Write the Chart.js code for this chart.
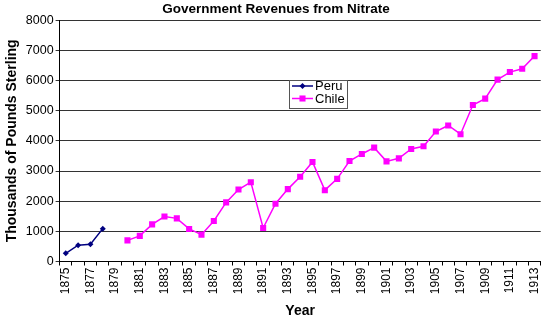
<!DOCTYPE html>
<html>
<head>
<meta charset="utf-8">
<script src="https://cdn.jsdelivr.net/npm/chart.js@4/dist/chart.umd.min.js"></script>
<style>
  html, body { margin: 0; padding: 0; background: #fff; }
  #wrap { width: 551px; height: 320px; position: relative; }
</style>
</head>
<body>
<div id="wrap"><canvas id="c"></canvas></div>
<script>
/* Government revenues from nitrate, Peru vs Chile, 1875-1913 (thousands of pounds). */
const years = ["1875", "1876", "1877", "1878", "1879", "1880", "1881", "1882", "1883", "1884",
  "1885", "1886", "1887", "1888", "1889", "1890", "1891", "1892", "1893", "1894",
  "1895", "1896", "1897", "1898", "1899", "1900", "1901", "1902", "1903", "1904",
  "1905", "1906", "1907", "1908", "1909", "1910", "1911", "1912", "1913"];
const peru = [270, 540, 575, 1090, null, null, null, null, null, null,
  null, null, null, null, null, null, null, null, null, null,
  null, null, null, null, null, null, null, null, null, null,
  null, null, null, null, null, null, null, null, null];
const chile = [null, null, null, null, null, 700, 850, 1230, 1490, 1430,
  1080, 890, 1345, 1960, 2385, 2630, 1110, 1915, 2400, 2810,
  3300, 2365, 2740, 3330, 3565, 3775, 3320, 3420, 3730, 3820,
  4310, 4510, 4220, 5190, 5400, 6030, 6280, 6390, 6810];
const yTicks = [0, 1000, 2000, 3000, 4000, 5000, 6000, 7000, 8000];

const FONT = "'Liberation Sans', Arial, sans-serif";
Chart.defaults.font.family = FONT;
Chart.defaults.color = "#000";

// legend box sitting inside the plot, like the original
const boxLegend = {
  id: "boxLegend",
  afterDraw(chart) {
    const ctx = chart.ctx, x = 289, y = 80, w = 58, h = 28;
    ctx.save();
    ctx.fillStyle = "#fff"; ctx.fillRect(x, y, w, h);
    ctx.strokeStyle = "#555"; ctx.lineWidth = 1; ctx.strokeRect(x + 0.5, y + 0.5, w, h);
    ctx.font = "13px " + FONT; ctx.textBaseline = "middle"; ctx.fillStyle = "#000";
    chart.data.datasets.forEach((ds, i) => {
      const ly = y + 6 + i * 12.5;
      ctx.strokeStyle = ds.borderColor; ctx.lineWidth = ds.borderWidth;
      ctx.beginPath(); ctx.moveTo(x + 3, ly); ctx.lineTo(x + 24, ly); ctx.stroke();
      ctx.fillStyle = ds.pointBackgroundColor;
      Chart.helpers.drawPoint(ctx, { pointStyle: ds.pointStyle, radius: ds.pointRadius, borderWidth: 0 }, x + 13.5, ly);
      ctx.fillStyle = "#000";
      ctx.fillText(ds.label, x + 26, ly + 0.5);
    });
    ctx.restore();
  }
};

new Chart(document.getElementById("c"), {
  type: "line",
  data: {
    labels: years,
    datasets: [
      { label: "Peru", data: peru, borderColor: "#000080", backgroundColor: "#000080", pointBackgroundColor: "#000080",
        pointBorderColor: "#000080", borderWidth: 1.5, pointStyle: "rectRot", pointRadius: 3, pointBorderWidth: 0, tension: 0 },
      { label: "Chile", data: chile, borderColor: "#ff00ff", backgroundColor: "#ff00ff", pointBackgroundColor: "#ff00ff",
        pointBorderColor: "#ff00ff", borderWidth: 1.5, pointStyle: "rect", pointRadius: 4.3, pointBorderWidth: 0, tension: 0 }
    ]
  },
  options: {
    responsive: true, maintainAspectRatio: false, animation: false,
    layout: { padding: { left: 4, right: 3, top: 0, bottom: 0 } },
    plugins: {
      legend: { display: false },
      tooltip: { enabled: false },
      title: { display: true, text: "Government Revenues from Nitrate", font: { size: 13.5, weight: "bold" }, color: "#000", padding: { top: 1, bottom: 3 } }
    },
    scales: {
      x: {
        offset: true,
        grid: { offset: true, drawOnChartArea: false, color: "#000", tickLength: 4 },
        border: { color: "#000", width: 1 },
        ticks: { autoSkip: false, minRotation: 90, maxRotation: 90, font: { size: 12 }, color: "#000", padding: 2,
          callback: (v, i) => (i % 2 ? "" : years[i]) },
        title: { display: true, text: "Year", font: { size: 14, weight: "bold" }, color: "#000", padding: { top: 7, bottom: 0 } }
      },
      y: {
        min: yTicks[0], max: yTicks[yTicks.length - 1],
        afterBuildTicks: (s) => { s.ticks = yTicks.map((v) => ({ value: v })); },
        grid: { color: "#333", tickLength: 4 },
        border: { color: "#000", width: 1 },
        ticks: { font: { size: 12.5 }, color: "#000", padding: 2, callback: (v) => String(v) },
        title: { display: true, text: "Thousands of Pounds Sterling", font: { size: 14, weight: "bold" }, color: "#000", padding: { top: 0, bottom: 3 } }
      }
    }
  },
  plugins: [boxLegend]
});
</script>
</body>
</html>
